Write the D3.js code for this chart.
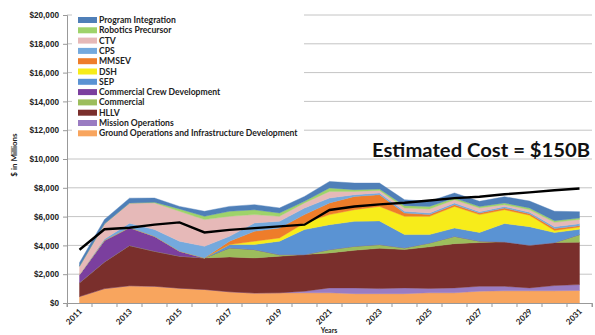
<!DOCTYPE html>
<html><head><meta charset="utf-8">
<script src="https://cdn.jsdelivr.net/npm/d3@7"></script>
<style>
body{margin:0;background:#fff;}
svg{display:block;font-family:Lato,"Liberation Sans",sans-serif;}
</style></head><body>
<svg id="c" width="595" height="335"></svg>
<script>
const years = d3.range(2011, 2032);
const ground     = [450,1000,1200,1160,1030,940,780,690,710,710,710,650,650,650,710,710,820,850,850,850,870];
const missionOps = [0,0,0,0,0,0,0,0,0,110,340,400,350,400,300,340,340,310,200,360,410];
const hllv       = [950,1850,2790,2430,2220,2190,2420,2440,2540,2540,2430,2610,2800,2660,2890,3070,3040,3090,2970,2990,2940];
const commercial = [0,0,0,0,0,0,630,580,110,0,230,280,260,120,270,510,100,0,0,0,530];
const commCrew   = [570,1500,1250,1040,350,0,0,0,0,0,0,0,0,0,0,0,0,0,0,0,0];
const sep        = [0,0,0,0,0,0,230,350,930,1740,1730,1730,1640,920,580,580,600,1270,1280,690,370];
const dsh        = [0,0,0,0,0,0,0,230,230,460,700,810,1010,1270,1270,1500,1240,960,800,150,160];
const mmsev      = [0,0,0,0,0,0,230,690,690,580,810,920,810,230,120,120,110,120,100,140,90];
const cps        = [0,100,300,470,690,810,340,580,460,460,340,120,120,120,110,120,80,100,100,120,140];
const ctv        = [580,1050,1400,1850,2080,1850,1390,580,350,350,460,230,180,230,280,220,270,130,180,300,290];
const robotics   = [0,0,0,50,160,230,350,330,230,110,240,120,90,160,180,120,100,120,120,120,100];
const progInt    = [250,300,340,290,180,350,340,360,350,340,450,460,420,410,350,350,360,430,480,650,440];
const estimated  = [3700,5120,5230,5440,5600,4900,5080,5200,5320,5440,6460,6700,6850,6960,7120,7280,7380,7550,7680,7830,7950];
const yTicks = [0,2000,4000,6000,8000,10000,12000,14000,16000,18000,20000];
const xLabelYears = [2011,2013,2015,2017,2019,2021,2023,2025,2027,2029,2031];

const series = [
  {name:"Ground Operations and Infrastructure Development", values:ground, color:"#f8a55e"},
  {name:"Mission Operations", values:missionOps, color:"#9a7cc2"},
  {name:"HLLV", values:hllv, color:"#7a2f2c"},
  {name:"Commercial", values:commercial, color:"#9cbd5c"},
  {name:"Commercial Crew Development", values:commCrew, color:"#7b3f9e"},
  {name:"SEP", values:sep, color:"#5a93d3"},
  {name:"DSH", values:dsh, color:"#f7ec1a"},
  {name:"MMSEV", values:mmsev, color:"#ee7d2a"},
  {name:"CPS", values:cps, color:"#74a9dd"},
  {name:"CTV", values:ctv, color:"#e6b9b8"},
  {name:"Robotics Precursor", values:robotics, color:"#9ed36a"},
  {name:"Program Integration", values:progInt, color:"#4f7fb8"}
];

const table = years.map((y,i)=>{const r={year:y}; series.forEach(s=>r[s.name]=s.values[i]); return r;});
const stack = d3.stack().keys(series.map(s=>s.name))(table);

const svg = d3.select("#c");
const L=67, R=592, T=15, B=303;
const x = d3.scalePoint().domain(years).range([L,R]).padding(0.5);
const xb = d3.scaleBand().domain(years).range([L,R]);
const y = d3.scaleLinear().domain([0,20000]).range([B,T]);

// gridlines
svg.append("g").selectAll("line").data(yTicks.filter(d=>d>0)).join("line")
  .attr("x1",L).attr("x2",R).attr("y1",d=>y(d)).attr("y2",d=>y(d))
  .attr("stroke","#c4c4c4").attr("stroke-width",1);

// areas
const area = d3.area().x((d,i)=>x(years[i])).y0(d=>y(d[0])).y1(d=>y(d[1]));
svg.append("g").selectAll("path").data(stack).join("path")
  .attr("d",area).attr("fill",(d,i)=>series[i].color)
  .attr("stroke",(d,i)=>series[i].color).attr("stroke-width",0.4);

// estimated line
svg.append("path").datum(estimated)
  .attr("d",d3.line().x((d,i)=>x(years[i])).y(d=>y(d)))
  .attr("fill","none").attr("stroke","#000").attr("stroke-width",2.4);

// y axis
const ya = svg.append("g").attr("transform",`translate(${L},0)`)
  .call(d3.axisLeft(y).tickValues(yTicks).tickSize(4).tickPadding(4).tickFormat(d=>"$"+d3.format(",")(d)));
ya.select(".domain").attr("stroke","#999");
ya.selectAll(".tick line").attr("stroke","#999");
ya.selectAll("text").attr("font-size",8.2).attr("font-weight","bold").attr("fill","#222");

// x axis
const xa = svg.append("g").attr("transform",`translate(0,${B})`)
  .call(d3.axisBottom(xb).tickSize(4).tickFormat(""));
xa.select(".domain").attr("stroke","#999");
xa.selectAll(".tick line").attr("stroke","#999").attr("transform",`translate(${-xb.bandwidth()/2},0)`);
xa.append("line").attr("x1",R).attr("x2",R).attr("y1",0).attr("y2",4).attr("stroke","#999");
svg.append("g").selectAll("text").data(xLabelYears).join("text")
  .attr("transform",d=>`translate(${x(d)+3},${B+9}) rotate(-45)`)
  .attr("text-anchor","end").attr("font-size",8).attr("font-weight","bold").attr("fill","#222")
  .text(d=>d);

// axis titles
svg.append("text").attr("transform","translate(17,155) rotate(-90)")
  .attr("text-anchor","middle").attr("font-size",8).attr("font-weight","bold").attr("fill","#222")
  .text("$ in Millions");
svg.append("text").attr("x",329).attr("y",333).attr("text-anchor","middle")
  .attr("font-size",7).attr("font-weight","bold").attr("fill","#222").text("Years");

// legend
const lg = svg.append("g");
lg.append("rect").attr("x",72).attr("y",14).attr("width",232).attr("height",125).attr("fill","#fff");
const legendItems = series.slice().reverse();
const li = lg.selectAll("g").data(legendItems).join("g")
  .attr("transform",(d,i)=>`translate(78,${20+i*10.3})`);
li.append("rect").attr("x",0).attr("y",-3).attr("width",19).attr("height",6).attr("fill",d=>d.color);
li.append("text").attr("x",21).attr("y",3).attr("font-size",8.6).attr("font-weight","bold")
  .attr("fill","#222").text(d=>d.name);

// annotation
svg.append("text").attr("x",372).attr("y",157).attr("font-size",19).attr("font-weight","bold")
  .attr("fill","#111").attr("textLength",218).attr("lengthAdjust","spacingAndGlyphs")
  .text("Estimated Cost = $150B");
</script></body></html>
